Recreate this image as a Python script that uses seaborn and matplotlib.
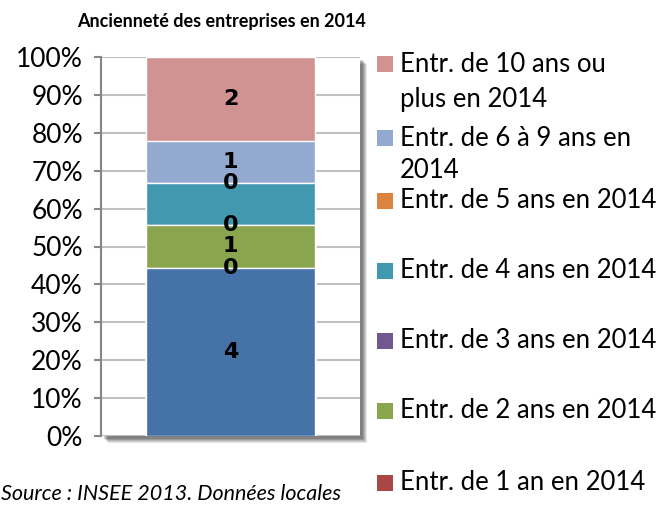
import matplotlib
matplotlib.use("Agg")
import matplotlib.pyplot as plt
from matplotlib.patches import Rectangle
from matplotlib.ticker import PercentFormatter
import seaborn as sns
import numpy as np

# ---- data ----
category = ["2014"]
series_names = [
    "Entr. créées en 2014",
    "Entr. de 1 an en 2014",
    "Entr. de 2 ans en 2014",
    "Entr. de 3 ans en 2014",
    "Entr. de 4 ans en 2014",
    "Entr. de 5 ans en 2014",
    "Entr. de 6 à 9 ans en 2014",
    "Entr. de 10 ans ou plus en 2014",
]
series_values = [4, 0, 1, 0, 1, 0, 1, 2]
value_labels = ["4", "0", "1", "0", "", "0", "1", "2"]
series_colors = ["#4572A7", "#AA4643", "#89A54E", "#71588F",
                 "#4198AF", "#DB843D", "#93A9CF", "#D19392"]
legend_labels = [
    "Entr. de 10 ans ou\nplus en 2014",
    "Entr. de 6 à 9 ans en\n2014",
    "Entr. de 5 ans en 2014",
    "Entr. de 4 ans en 2014",
    "Entr. de 3 ans en 2014",
    "Entr. de 2 ans en 2014",
    "Entr. de 1 an en 2014",
]
legend_colors = ["#D19392", "#93A9CF", "#DB843D", "#4198AF",
                 "#71588F", "#89A54E", "#AA4643"]
title = "Ancienneté des entreprises en 2014"
source = "Source : INSEE 2013. Données locales"

sns.set_theme(style="white")
plt.rcParams["font.family"] = ["Lato", "DejaVu Sans"]

W, H = 668, 507
fig = plt.figure(figsize=(W / 100, H / 100), dpi=100)
fig.patch.set_facecolor("white")

def fx(px):
    return px / W

def fy(py):
    return 1 - py / H

left, right, top, bottom = 101, 360, 57, 436
ax = fig.add_axes([fx(left), fy(bottom), fx(right - left), (bottom - top) / H])
ax.set_zorder(2)

# shadow behind plot area
for i, a in enumerate([0.10, 0.10, 0.12, 0.14, 0.16]):
    off = 7 - i
    fig.add_artist(Rectangle((fx(left + off), fy(bottom + off)),
                             fx(right - left), (bottom - top) / H,
                             transform=fig.transFigure, facecolor="black",
                             alpha=a, edgecolor="none", zorder=0))

total = float(np.sum(series_values))
shares = np.array(series_values) / total
cum_top = np.cumsum(shares)
cum_bot = cum_top - shares

# draw stacked bar: tallest cumulative first, overlay lower ones
for i in reversed(range(len(series_names))):
    sns.barplot(x=category, y=[cum_top[i]], color=series_colors[i],
                width=0.65, ax=ax, saturation=1, zorder=3)

for i, lab in enumerate(value_labels):
    if lab == "":
        continue
    yc = (cum_bot[i] + cum_top[i]) / 2
    ax.text(0, yc, lab, ha="center", va="center", fontsize=16,
            fontweight="bold", family="DejaVu Sans", color="black", zorder=5)

ax.set_ylim(0, 1)
ax.set_xlim(-0.5, 0.5)
ax.set_yticks(np.arange(0, 1.01, 0.1))
ax.yaxis.set_major_formatter(PercentFormatter(1.0, decimals=0))
ax.tick_params(axis="y", which="major", left=True, length=5, width=1.5,
               color="#868686", labelsize=19, labelcolor="black", pad=8)
ax.tick_params(axis="x", bottom=False, labelbottom=False)
ax.set_xlabel("")
ax.set_ylabel("")
ax.grid(axis="y", color="#C0C0C0", linewidth=1.5, zorder=0)
ax.set_axisbelow(True)
for s in ["top", "right", "bottom"]:
    ax.spines[s].set_visible(False)
ax.spines["left"].set_color("#868686")
ax.spines["left"].set_linewidth(1.5)

# title
fig.text(fx(222), fy(22), title, ha="center", va="center",
         fontsize=13, fontweight="bold", color="black")

# legend (manual, Excel-like spacing)
leg_y = [64, 138, 201, 271, 341, 411, 483]
line_gap = [35, 33, 0, 0, 0, 0, 0]
sq = 16
for lab, col, yc, gap in zip(legend_labels, legend_colors, leg_y, line_gap):
    fig.add_artist(Rectangle((fx(377), fy(yc + sq / 2)), fx(sq), sq / H,
                             transform=fig.transFigure, facecolor=col,
                             edgecolor="none"))
    for k, line in enumerate(lab.split("\n")):
        fig.text(fx(400), fy(yc + k * gap), line, ha="left", va="center",
                 fontsize=18.5, color="black")

# source
fig.text(fx(1), fy(494), source, ha="left", va="center", fontsize=15.5,
         style="italic", color="black")

fig.savefig("out.png", dpi=100)
